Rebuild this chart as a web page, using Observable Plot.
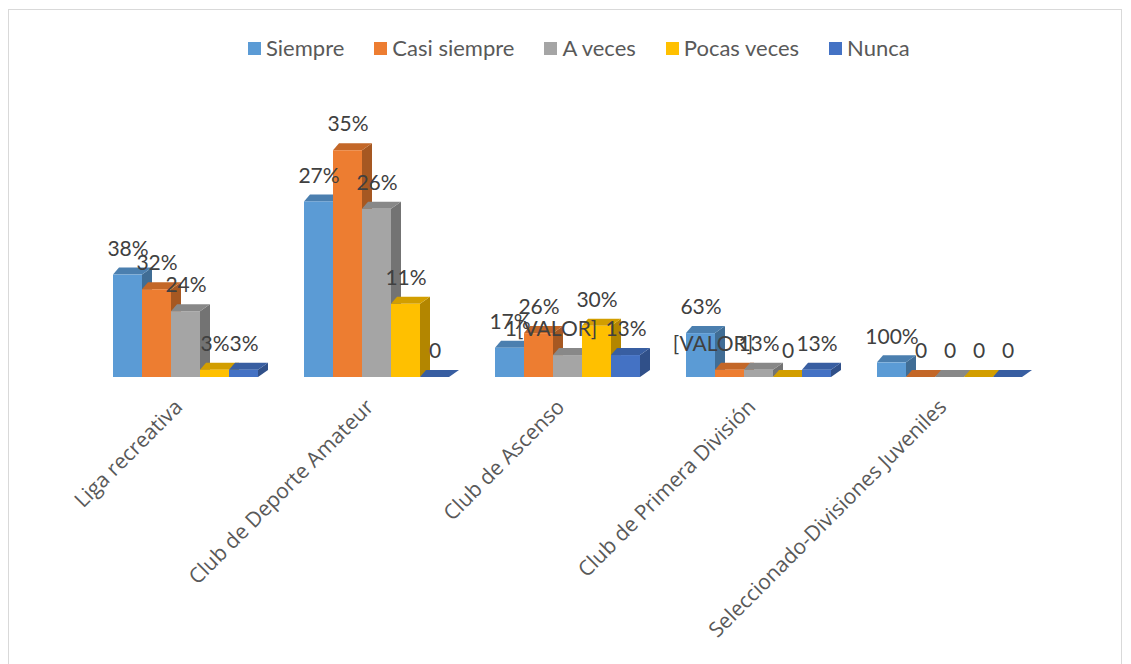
<!DOCTYPE html>
<html><head><meta charset="utf-8">
<script src="https://cdn.jsdelivr.net/npm/d3@7"></script>
<script src="https://cdn.jsdelivr.net/npm/@observablehq/plot@0.6"></script>
<style>
body{margin:0;background:#fff;}
#wrap{position:relative;width:1131px;height:664px;overflow:hidden;background:#fff;}
#border{position:absolute;left:8px;top:9px;width:1114px;height:680px;border:1.5px solid #d9d9d9;box-sizing:border-box;}
#legend{position:absolute;top:34px;left:248px;display:flex;gap:30px;font-family:Lato,sans-serif;font-size:22px;color:#595959;line-height:28px;}
#legend .it{display:flex;align-items:center;gap:5px;}
#legend .sw{width:13px;height:13px;display:inline-block;}
#chart{position:absolute;left:0;top:0;}
</style></head>
<body>
<div id="wrap"><div id="border"></div><div id="legend"></div><div id="chart"></div></div>
<script>
const categories = ["Liga recreativa","Club de Deporte Amateur","Club de Ascenso","Club de Primera División","Seleccionado-Divisiones Juveniles"];
const series = ["Siempre","Casi siempre","A veces","Pocas veces","Nunca"];
const colors = ["#5B9BD5","#ED7D31","#A5A5A5","#FFC000","#4472C4"];
// bar heights (counts)
const siempre     = [14, 24, 4, 6, 2];
const casiSiempre = [12, 31, 6, 1, 0];
const aVeces      = [9, 23, 3, 1, 0];
const pocasVeces  = [1, 10, 7, 0, 0];
const nunca       = [1, 0, 3, 1, 0];
// data labels as shown
const labSiempre     = ["38%","27%","17%","63%","100%"];
const labCasiSiempre = ["32%","35%","26%","[VALOR]","0"];
const labAVeces      = ["24%","26%","1[VALOR]","13%","0"];
const labPocasVeces  = ["3%","11%","30%","0","0"];
const labNunca       = ["3%","0","13%","13%","0"];

const valueSets = [siempre, casiSiempre, aVeces, pocasVeces, nunca];
const labelSets = [labSiempre, labCasiSiempre, labAVeces, labPocasVeces, labNunca];
const data = [];
categories.forEach((c, ci) => series.forEach((s, si) => data.push({cat: c, series: s, value: valueSets[si][ci], label: labelSets[si][ci]})));

// legend
const lg = document.getElementById("legend");
series.forEach((s, i) => {
  const it = document.createElement("div"); it.className = "it";
  it.innerHTML = `<span class="sw" style="background:${colors[i]}"></span><span>${s}</span>`;
  lg.appendChild(it);
});

const DX = 10, DXL = 6, DY = 7;
function faces(index, scales, values, dimensions, context, next) {
  const g = next(index, scales, values, dimensions, context);
  const rects = Array.from(g.querySelectorAll("rect"));
  for (const r of rects) {
    const x = +r.getAttribute("x"), y = +r.getAttribute("y");
    const w = +r.getAttribute("width"), h = +(r.getAttribute("height") || 0);
    const fill = r.getAttribute("fill") || g.getAttribute("fill");
    const c = d3.color(fill);
    const side = document.createElementNS("http://www.w3.org/2000/svg", "path");
    side.setAttribute("d", `M${x+w},${y}L${x+w+DX},${y-DY}L${x+w+DX},${y+h-DY}L${x+w},${y+h}Z`);
    side.setAttribute("fill", c.darker(1.0).formatHex());
    const top = document.createElementNS("http://www.w3.org/2000/svg", "path");
    top.setAttribute("d", `M${x},${y}L${x+DXL},${y-DY}L${x+w+DX},${y-DY}L${x+w},${y}Z`);
    top.setAttribute("fill", c.darker(0.55).formatHex());
    r.parentNode.insertBefore(side, r);
    r.parentNode.insertBefore(top, r);
  }
  return g;
}

const normal = data.filter(d => !d.label.includes("VALOR"));
const odd = data.filter(d => d.label.includes("VALOR"));

const chart = Plot.plot({
  width: 1131,
  height: 664,
  marginTop: 121,
  marginBottom: 287,
  marginLeft: 88,
  marginRight: 84,
  style: {background: "transparent", fontFamily: "'Open Sans', sans-serif", overflow: "visible"},
  fx: {domain: categories, paddingInner: 0.23, paddingOuter: 0.115, label: null},
  x: {domain: series, padding: 0, axis: null},
  y: {domain: [0, 35], axis: null},
  color: {domain: series, range: colors},
  marks: [
    Plot.barY(data, {fx: "cat", x: "series", y: "value", fill: "series", render: faces}),
    Plot.text(normal, {fx: "cat", x: "series", y: "value", text: "label", dy: -26, lineAnchor: "middle", fill: "#404040", fontSize: 21, fontFamily: "Lato"}),
    Plot.text(odd, {fx: "cat", x: "series", y: "value", text: "label", dy: -26, dx: -17, lineAnchor: "middle", fill: "#404040", fontSize: 21, fontFamily: "Lato"}),
    Plot.axisFx({anchor: "bottom", tickRotate: -45, tickSize: 0, tickPadding: 26, dx: -7, fontSize: 21, fontFamily: "'Open Sans', sans-serif", fill: "#595959", label: null})
  ]
});
document.getElementById("chart").appendChild(chart);
</script>
</body></html>
